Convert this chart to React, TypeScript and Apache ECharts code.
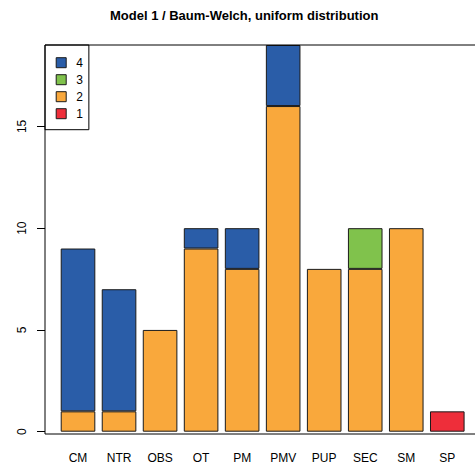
import React, { useEffect, useRef } from "react";
import * as echarts from "echarts";

const categories = ["CM", "NTR", "OBS", "OT", "PM", "PMV", "PUP", "SEC", "SM", "SP"];
const state1 = [null, null, null, null, null, null, null, null, null, 1];
const state2 = [1, 1, 5, 9, 8, 16, 8, 8, 10, null];
const state3 = [null, null, null, null, null, null, null, 2, null, null];
const state4 = [8, 6, null, 1, 2, 3, null, null, null, null];
const yTicks = [0, 5, 10, 15];
const legendOrder = ["4", "3", "2", "1"];

const colors: Record<string, string> = {
  "1": "#EE2E3A",
  "2": "#F9A83C",
  "3": "#80C24C",
  "4": "#2A5DA8",
};

const FONT = "Liberation Sans, Arial, Helvetica, sans-serif";

export default function App() {
  const ref = useRef<HTMLDivElement>(null);
  useEffect(() => {
    if (!ref.current) return;
    const chart = echarts.init(ref.current, undefined, { renderer: "svg" });
    const mk = (name: string, data: (number | null)[]) => ({
      name,
      type: "bar",
      stack: "total",
      data,
      barWidth: 34.6,
      itemStyle: { color: colors[name], borderColor: "#1a1a1a", borderWidth: 1 },
      emphasis: { disabled: true },
    });
    chart.setOption({
      animation: false,
      backgroundColor: "#ffffff",
      title: {
        text: "Model 1 / Baum-Welch, uniform distribution",
        left: 110,
        top: 9,
        padding: 0,
        textStyle: { fontFamily: FONT, fontSize: 13, fontWeight: "bold", color: "#000" },
      },
      grid: { left: 57.5, right: 7.2, top: 45, bottom: 33.3, containLabel: false },
      legend: {
        data: legendOrder,
        orient: "vertical",
        left: 45,
        top: 45,
        padding: [11.7, 6, 10, 10.7],
        borderColor: "#000",
        borderWidth: 1,
        backgroundColor: "#fff",
        itemWidth: 10,
        itemHeight: 10,
        itemGap: 5,
        icon: "rect",
        itemStyle: { borderColor: "#1a1a1a", borderWidth: 1 },
        textStyle: { fontFamily: FONT, fontSize: 12, color: "#000", padding: [0, 0, 0, 5] },
      },
      xAxis: {
        type: "category",
        data: categories,
        axisLine: { show: false },
        axisTick: { show: false },
        axisLabel: { fontFamily: FONT, fontSize: 12, color: "#000", margin: 20, interval: 0 },
      },
      yAxis: {
        type: "value",
        min: 0,
        max: 19,
        interval: 5,
        offset: 12.5,
        splitLine: { show: false },
        axisLine: { show: false },
        axisTick: { show: true, length: 8, lineStyle: { color: "#000" }, customValues: yTicks },
        axisLabel: {
          fontFamily: FONT,
          fontSize: 12,
          color: "#000",
          rotate: 90,
          margin: 17,
          customValues: yTicks,
        },
      },
      graphic: [
        {
          type: "rect",
          shape: { x: 45, y: 45, width: 440, height: 389 },
          style: { fill: "none", stroke: "#000", lineWidth: 1 },
          silent: true,
          z: 10,
        },
      ],
      series: [mk("1", state1), mk("2", state2), mk("3", state3), mk("4", state4)],
    });
    return () => chart.dispose();
  }, []);
  return <div ref={ref} style={{ width: 475, height: 465, position: "absolute", left: 0, top: 0 }} />;
}
